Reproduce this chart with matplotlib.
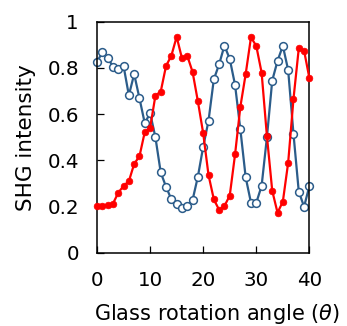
import matplotlib
matplotlib.use("Agg")
import matplotlib.pyplot as plt

angle = list(range(0, 41))
shg_red = [0.205, 0.203, 0.208, 0.213, 0.260, 0.290, 0.310, 0.385, 0.418, 0.523,
           0.540, 0.680, 0.697, 0.808, 0.852, 0.934, 0.841, 0.852, 0.782, 0.655,
           0.517, 0.337, 0.232, 0.186, 0.203, 0.248, 0.426, 0.632, 0.773, 0.932,
           0.894, 0.779, 0.505, 0.269, 0.174, 0.222, 0.390, 0.665, 0.884, 0.874,
           0.755]
shg_blue = [0.824, 0.868, 0.844, 0.805, 0.794, 0.808, 0.681, 0.773, 0.668, 0.560,
            0.605, 0.500, 0.348, 0.286, 0.232, 0.210, 0.196, 0.205, 0.229, 0.330,
            0.459, 0.571, 0.750, 0.815, 0.896, 0.838, 0.726, 0.534, 0.327, 0.217,
            0.217, 0.290, 0.500, 0.745, 0.830, 0.895, 0.790, 0.515, 0.265, 0.200,
            0.290]
xticks = [0, 10, 20, 30, 40]
yticks = [0, 0.2, 0.4, 0.6, 0.8, 1]
ytick_labels = ["0", "0.2", "0.4", "0.6", "0.8", "1"]

plt.rcParams['font.family'] = ['DejaVu Sans']

fig = plt.figure(figsize=(3.47, 3.26), dpi=100)
ax = fig.add_axes([97 / 347, (326 - 253) / 326, 212.4 / 347, 231.5 / 326])

blue = "#2B5C8A"
red = "#FF0000"
ax.plot(angle, shg_blue, color=blue, lw=1.6, marker='o', ms=5.6,
        mfc='white', mec=blue, mew=1.1, zorder=2, clip_on=False)
ax.plot(angle, shg_red, color=red, lw=1.6, marker='o', ms=4.8,
        mfc=red, mec=red, mew=0.5, zorder=3, clip_on=False)

ax.set_xlim(0, 40)
ax.set_ylim(0, 1)
ax.set_xticks(xticks)
ax.set_yticks(yticks)
ax.set_yticklabels(ytick_labels)
ax.tick_params(direction='in', length=4.8, width=0.9, labelsize=14.3, pad=13,
               top=False, right=False, colors='black')
for s in ax.spines.values():
    s.set_linewidth(1.1)
    s.set_color('black')

ax.set_xlabel(r"Glass rotation angle ($\theta$)", fontsize=15)
ax.xaxis.set_label_coords((217 - 97) / 212.4, (253 - 302) / 231.5)
ax.set_ylabel("SHG intensity", fontsize=15.5)
ax.yaxis.set_label_coords((36 - 97) / 212.4, 0.5)

fig.savefig("out.png", dpi=100)
